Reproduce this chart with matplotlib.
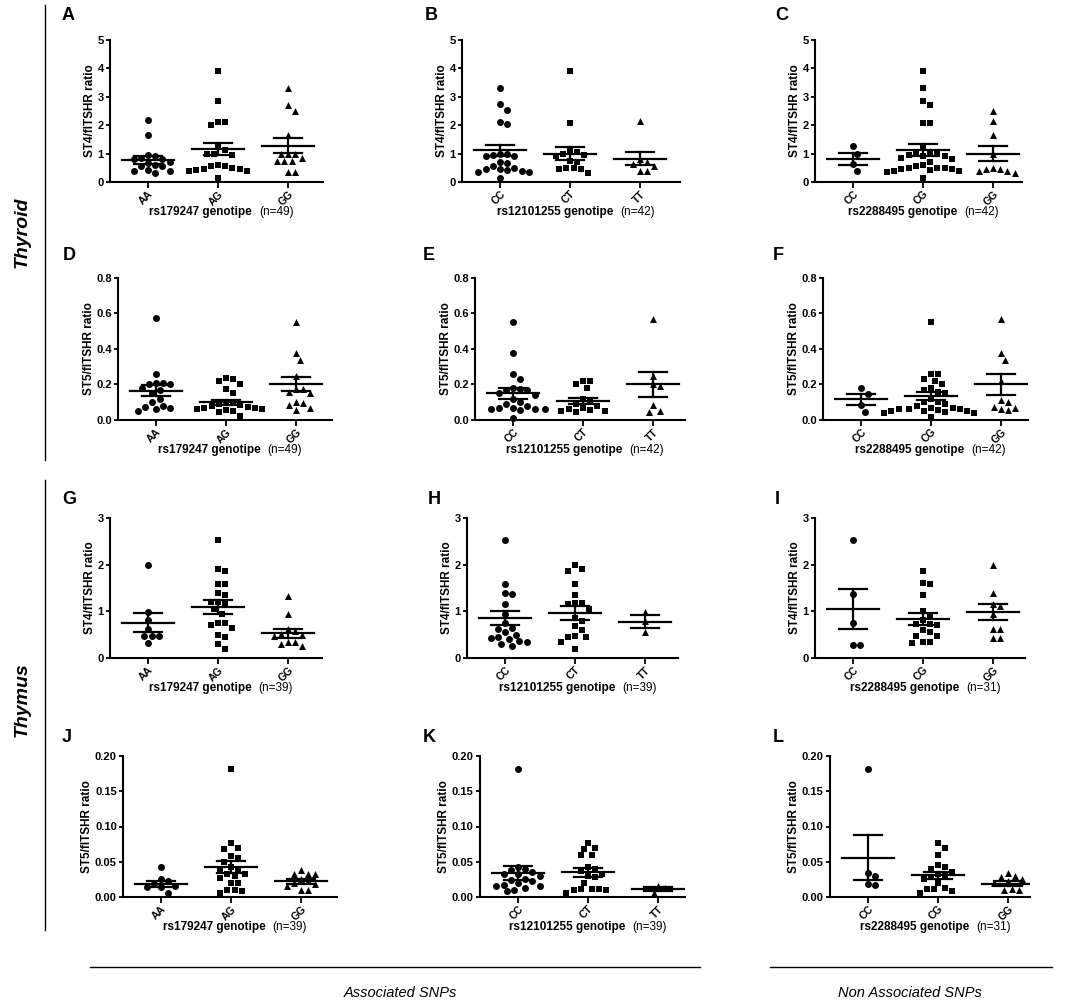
import numpy as np
import matplotlib
matplotlib.use("Agg")
import matplotlib.pyplot as plt
from matplotlib.lines import Line2D

plt.rcParams['font.family'] = ['Liberation Sans', 'DejaVu Sans']

# ---------------- data ----------------
letters = ["A", "B", "C", "D", "E", "F", "G", "H", "I", "J", "K", "L"]
snps = ["rs179247", "rs12101255", "rs2288495"]
geno_labels = [["AA", "AG", "GG"], ["CC", "CT", "TT"], ["CC", "CG", "GG"]]
n_row = [[49, 42, 42], [49, 42, 42], [39, 39, 31], [39, 39, 31]]
ylabels = ["ST4/fITSHR ratio", "ST5/fITSHR ratio", "ST4/fITSHR ratio", "ST5/fITSHR ratio"]
ymax_row = [5, 0.8, 3, 0.20]
yticks_row = [[0, 1, 2, 3, 4, 5], [0.0, 0.2, 0.4, 0.6, 0.8], [0, 1, 2, 3], [0.00, 0.05, 0.10, 0.15, 0.20]]
yfmt_row = ["{:.0f}", "{:.1f}", "{:.0f}", "{:.2f}"]

A_vals = [[2.2, 1.65, 0.95, 0.93, 0.85, 0.82, 0.80, 0.72, 0.68, 0.60, 0.58, 0.55, 0.42, 0.40, 0.38, 0.30],
          [3.9, 2.85, 2.1, 2.0, 2.1, 1.25, 1.12, 1.0, 0.98, 0.95, 0.55, 0.5, 0.45, 0.45, 0.42, 0.4, 0.38, 0.55, 0.15, 0.6],
          [3.3, 2.7, 2.5, 1.65, 1.0, 1.0, 0.85, 0.75, 0.75, 0.75, 0.35, 0.35, 1.0]]
B_vals = [[3.3, 2.75, 2.55, 2.1, 2.03, 1.0, 0.98, 0.95, 0.92, 0.9, 0.72, 0.68, 0.55, 0.48, 0.45, 0.45, 0.42, 0.38, 0.35, 0.35, 0.15],
          [3.9, 2.08, 1.12, 1.05, 1.0, 0.95, 0.9, 0.75, 0.72, 0.5, 0.48, 0.45, 0.45, 0.3],
          [2.15, 0.8, 0.72, 0.65, 0.55, 0.4, 0.4]]
C_vals = [[1.25, 1.0, 0.62, 0.4],
          [3.9, 3.3, 2.85, 2.72, 2.08, 2.08, 1.18, 1.05, 1.0, 0.98, 0.95, 0.9, 0.9, 0.85, 0.8, 0.7, 0.6, 0.55, 0.5, 0.5,
           0.48, 0.45, 0.45, 0.42, 0.4, 0.38, 0.35, 0.15],
          [2.5, 2.15, 1.65, 0.98, 0.48, 0.45, 0.45, 0.4, 0.4, 0.3]]
D_vals = [[0.575, 0.26, 0.21, 0.21, 0.2, 0.2, 0.18, 0.17, 0.15, 0.12, 0.1, 0.08, 0.075, 0.07, 0.06, 0.05],
          [0.235, 0.23, 0.22, 0.2, 0.175, 0.15, 0.1, 0.095, 0.09, 0.085, 0.08, 0.075, 0.07, 0.065, 0.06, 0.06, 0.055, 0.05, 0.045, 0.02],
          [0.55, 0.38, 0.34, 0.25, 0.175, 0.175, 0.16, 0.15, 0.1, 0.095, 0.085, 0.07, 0.055]]
E_vals = [[0.55, 0.38, 0.26, 0.23, 0.18, 0.175, 0.17, 0.17, 0.15, 0.14, 0.12, 0.1, 0.09, 0.08, 0.07, 0.065, 0.06, 0.06, 0.06, 0.055, 0.01],
          [0.22, 0.22, 0.2, 0.18, 0.12, 0.1, 0.09, 0.08, 0.07, 0.06, 0.055, 0.05, 0.05, 0.045],
          [0.57, 0.25, 0.2, 0.19, 0.085, 0.045, 0.05]]
F_vals = [[0.18, 0.145, 0.085, 0.045],
          [0.55, 0.26, 0.26, 0.23, 0.22, 0.2, 0.18, 0.17, 0.16, 0.15, 0.12, 0.1, 0.1, 0.09, 0.08, 0.07, 0.065, 0.06, 0.06,
           0.06, 0.055, 0.05, 0.05, 0.05, 0.045, 0.04, 0.04, 0.015],
          [0.57, 0.38, 0.34, 0.22, 0.11, 0.1, 0.075, 0.07, 0.06, 0.055]]
G_vals = [[2.0, 0.98, 0.82, 0.62, 0.47, 0.47, 0.47, 0.32],
          [2.52, 1.9, 1.86, 1.58, 1.58, 1.4, 1.35, 1.2, 1.2, 1.18, 1.05, 0.95, 0.75, 0.75, 0.7, 0.64, 0.5, 0.45, 0.3, 0.2],
          [1.33, 0.95, 0.62, 0.58, 0.52, 0.5, 0.48, 0.35, 0.35, 0.3, 0.25]]
H_vals = [[2.52, 1.58, 1.4, 1.37, 1.15, 0.95, 0.75, 0.65, 0.62, 0.55, 0.5, 0.45, 0.42, 0.4, 0.36, 0.35, 0.3, 0.25],
          [2.0, 1.9, 1.87, 1.58, 1.35, 1.18, 1.18, 1.15, 1.05, 0.85, 0.8, 0.68, 0.6, 0.48, 0.45, 0.45, 0.35, 0.2],
          [0.99, 0.8, 0.55]]
I_vals = [[2.52, 1.37, 0.75, 0.27, 0.27],
          [1.87, 1.6, 1.58, 1.35, 1.0, 0.9, 0.82, 0.72, 0.72, 0.7, 0.6, 0.55, 0.48, 0.48, 0.35, 0.35, 0.33],
          [2.0, 1.4, 1.15, 1.12, 0.95, 0.62, 0.62, 0.42, 0.42]]
J_vals = [[0.042, 0.025, 0.022, 0.018, 0.015, 0.014, 0.014, 0.006],
          [0.181, 0.076, 0.069, 0.068, 0.058, 0.056, 0.05, 0.043, 0.04, 0.04, 0.033, 0.032, 0.03, 0.027, 0.02, 0.02, 0.01, 0.01, 0.009, 0.006],
          [0.038, 0.033, 0.033, 0.033, 0.025, 0.022, 0.02, 0.018, 0.015, 0.01, 0.01]]
K_vals = [[0.181, 0.043, 0.04, 0.038, 0.035, 0.033, 0.032, 0.03, 0.025, 0.024, 0.022, 0.02, 0.017, 0.016, 0.015, 0.013, 0.01, 0.008],
          [0.077, 0.07, 0.068, 0.06, 0.059, 0.043, 0.04, 0.037, 0.033, 0.03, 0.028, 0.02, 0.012, 0.012, 0.011, 0.01, 0.01, 0.005],
          [0.015, 0.013, 0.005]]
L_vals = [[0.181, 0.034, 0.03, 0.019, 0.017],
          [0.077, 0.07, 0.06, 0.045, 0.043, 0.04, 0.035, 0.032, 0.03, 0.028, 0.025, 0.02, 0.013, 0.011, 0.011, 0.008, 0.005],
          [0.034, 0.03, 0.028, 0.025, 0.022, 0.02, 0.012, 0.01, 0.01]]

# mean and SEM per group, as shown in the chart
means = [[0.78, 1.15, 1.28], [1.11, 1.0, 0.82], [0.8, 1.13, 1.0],
         [0.166, 0.1, 0.202], [0.151, 0.106, 0.202], [0.116, 0.135, 0.2],
         [0.76, 1.09, 0.53], [0.85, 0.97, 0.78], [1.05, 0.84, 0.99],
         [0.018, 0.042, 0.022], [0.0335, 0.035, 0.011], [0.0558, 0.0305, 0.019]]
sems = [[0.13, 0.21, 0.27], [0.2, 0.23, 0.23], [0.21, 0.2, 0.26],
        [0.03, 0.015, 0.041], [0.03, 0.018, 0.07], [0.03, 0.024, 0.057],
        [0.195, 0.145, 0.1], [0.15, 0.15, 0.14], [0.42, 0.125, 0.175],
        [0.0045, 0.0085, 0.0035], [0.0098, 0.0068, 0.0025], [0.0318, 0.005, 0.003]]

all_vals = [A_vals, B_vals, C_vals, D_vals, E_vals, F_vals, G_vals, H_vals, I_vals, J_vals, K_vals, L_vals]
markers = ["o", "s", "^"]

# ---------------- layout (pixels) ----------------
W, H = 1084, 1000
row_tb = [(40, 182), (278, 420), (518, 658), (756, 897)]
col_lr = [[(110, 323), (462, 680), (815, 1022)],
          [(118, 332), (475, 685), (823, 1028)],
          [(110, 322), (467, 678), (815, 1025)],
          [(123, 337), (480, 685), (830, 1030)]]
letter_xy = [[(62, 16), (425, 16), (775, 16)],
             [(63, 255), (423, 255), (773, 255)],
             [(62, 500), (428, 500), (775, 500)],
             [(62, 738), (423, 738), (773, 738)]]
PX_PER_CAT = 70.0
FIRST_CAT_PX = 38.0
MIN_DIST_PX = 7.2
STEP_PX = 3.6


def swarm_offsets(vals, ymax, h_px):
    y = np.asarray(vals, dtype=float) * h_px / ymax
    order = np.argsort(-y)
    cands = [0.0]
    for k in range(1, 60):
        cands += [k * STEP_PX, -k * STEP_PX]
    px, py = [], []
    offs = np.zeros(len(y))
    for i in order:
        for cx in cands:
            ok = True
            for qx, qy in zip(px, py):
                if (cx - qx) ** 2 + (y[i] - qy) ** 2 < MIN_DIST_PX ** 2:
                    ok = False
                    break
            if ok:
                break
        offs[i] = cx
        px.append(cx)
        py.append(y[i])
    return offs / PX_PER_CAT


fig = plt.figure(figsize=(W / 100, H / 100), dpi=100)
renderer = fig.canvas.get_renderer()

for p in range(12):
    r, c = divmod(p, 3)
    t, b = row_tb[r]
    l, rr = col_lr[r][c]
    ax = fig.add_axes([l / W, 1 - b / H, (rr - l) / W, (b - t) / H])
    ymax = ymax_row[r]
    h_px = b - t
    for g in range(3):
        vals = all_vals[p][g]
        xo = swarm_offsets(vals, ymax, h_px)
        ax.scatter(g + xo, vals, marker=markers[g], s=25, color="black", linewidths=0, zorder=3, clip_on=False)
        m, se = means[p][g], sems[p][g]
        ax.plot([g - 0.37, g + 0.37], [m, m], color="black", lw=1.6, zorder=4)
        ax.plot([g - 0.2, g + 0.2], [m + se, m + se], color="black", lw=1.6, zorder=4)
        ax.plot([g - 0.2, g + 0.2], [m - se, m - se], color="black", lw=1.6, zorder=4)
        ax.plot([g, g], [m - se, m + se], color="black", lw=1.6, zorder=4)
    ax.set_xlim(-FIRST_CAT_PX / PX_PER_CAT, -FIRST_CAT_PX / PX_PER_CAT + (rr - l) / PX_PER_CAT)
    ax.set_ylim(0, ymax)
    ax.set_yticks(yticks_row[r])
    ax.set_yticklabels([yfmt_row[r].format(v) for v in yticks_row[r]], fontsize=8, fontweight="bold")
    ax.set_xticks([0, 1, 2])
    ax.set_xticklabels(geno_labels[c], rotation=45, ha="right", rotation_mode="anchor",
                       fontsize=7.5, fontweight="bold")
    for s in ["top", "right"]:
        ax.spines[s].set_visible(False)
    for s in ["left", "bottom"]:
        ax.spines[s].set_linewidth(1.5)
    ax.tick_params(axis="both", width=1.3, length=3, pad=1.5)
    ax.tick_params(axis="x", length=4, pad=1)
    ax.set_ylabel(ylabels[r], fontsize=8.5, fontweight="bold", labelpad=1)

    # x label: bold SNP + "genotipe", normal "(n=..)"
    cx_px = (l + rr) / 2.0 + 5
    ly_px = b + 30
    t1 = fig.text(0, 0, snps[c] + " genotipe", fontsize=8.5, fontweight="bold", ha="left", va="center")
    t2 = fig.text(0, 0, "(n=" + str(n_row[r][c]) + ")", fontsize=8.5, ha="left", va="center")
    w1 = t1.get_window_extent(renderer).width
    w2 = t2.get_window_extent(renderer).width
    gap = 7
    x0 = cx_px - (w1 + gap + w2) / 2.0
    t1.set_position((x0 / W, 1 - ly_px / H))
    t2.set_position(((x0 + w1 + gap) / W, 1 - ly_px / H))

    lx, ly = letter_xy[r][c]
    fig.text(lx / W, 1 - ly / H, letters[p], fontsize=13, fontweight="bold", ha="left", va="center")

# side group labels
fig.text(22 / W, 1 - 232 / H, "Thyroid", rotation=90, fontsize=14, fontweight="bold", style="italic",
         ha="center", va="center")
fig.text(22 / W, 1 - 700 / H, "Thymus", rotation=90, fontsize=14, fontweight="bold", style="italic",
         ha="center", va="center")
fig.add_artist(Line2D([45 / W, 45 / W], [1 - 5 / H, 1 - 460 / H], color="black", lw=1))
fig.add_artist(Line2D([45 / W, 45 / W], [1 - 480 / H, 1 - 930 / H], color="black", lw=1))

# bottom group labels
fig.add_artist(Line2D([90 / W, 700 / W], [1 - 967 / H, 1 - 967 / H], color="black", lw=1))
fig.add_artist(Line2D([770 / W, 1052 / W], [1 - 967 / H, 1 - 967 / H], color="black", lw=1))
fig.text(400 / W, 1 - 993 / H, "Associated SNPs", fontsize=10.5, style="italic", ha="center", va="center")
fig.text(910 / W, 1 - 993 / H, "Non Associated SNPs", fontsize=10.5, style="italic", ha="center", va="center")

fig.savefig("out.png", dpi=100)
